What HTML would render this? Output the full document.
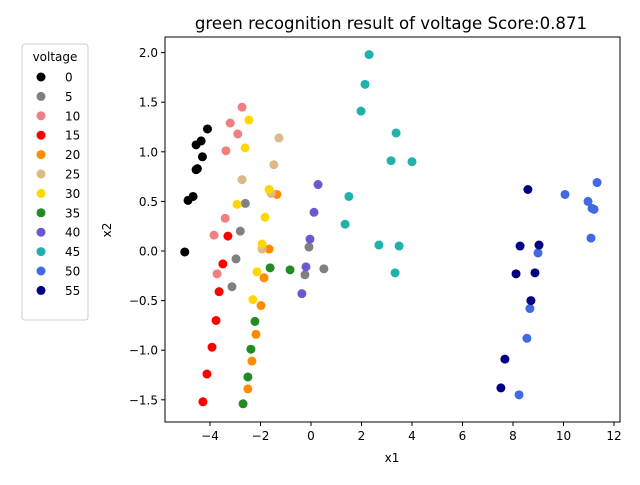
<!DOCTYPE html>
<html><head><meta charset="utf-8"><style>
body{margin:0;background:#fff;font-family:"Liberation Sans","DejaVu Sans",sans-serif;}
</style></head><body>
<svg id="chart" width="640" height="480" xmlns="http://www.w3.org/2000/svg" font-family="DejaVu Sans, Liberation Sans, sans-serif">
<rect width="640" height="480" fill="#fff"/>
<text x="391" y="29" text-anchor="middle" font-size="16.6">green recognition result of voltage Score:0.871</text>
<g id="marks"></g>
<rect x="165" y="37" width="455" height="385" fill="none" stroke="#000" stroke-width="1"/>
<g id="xticks"></g><g id="yticks"></g>
<text x="392" y="462" text-anchor="middle" font-size="12">x1</text>
<text transform="translate(111,230) rotate(-90)" text-anchor="middle" font-size="12">x2</text>
<g id="legend">
<rect x="22" y="44" width="66" height="276" rx="3" fill="#fff" stroke="#ccc"/>
<text x="55" y="61" text-anchor="middle" font-size="12">voltage</text>
</g>
</svg>
<script>
const classes=["0","5","10","15","20","25","30","35","40","45","50","55"];
const colors=["#000000","#808080","#f08080","#ff0000","#ff8c00","#deb887","#ffd700","#228b22","#6a5acd","#20b2aa","#4169e1","#000080"];
const xs=[
[-5.0,-4.87,-4.67,-4.55,-4.5,-4.55,-4.35,-4.3,-4.1],
[-2.6,-2.8,-2.97,-3.13,-0.08,-0.24,0.51],
[-2.73,-3.2,-2.9,-3.37,-3.4,-3.84,-3.72],
[-3.29,-3.49,-3.64,-3.76,-3.92,-4.12,-4.28],
[-1.35,-1.66,-1.86,-1.98,-2.18,-2.34,-2.5],
[-1.27,-1.47,-2.73,-1.58,-1.94],
[-2.46,-2.61,-1.66,-2.93,-1.82,-1.94,-2.14,-2.3],
[-1.62,-0.83,-2.22,-2.38,-2.5,-2.69],
[0.28,0.12,-0.04,-0.2,-0.36],
[2.3,2.14,1.98,3.37,3.17,4.0,1.5,1.35,2.69,3.49,3.33],
[10.06,10.97,11.21,11.13,11.33,11.09,8.99,8.67,8.55,8.24],
[8.59,8.28,9.03,8.12,8.87,8.71,7.68,7.52]];
const ys=[
[-0.01,0.51,0.55,0.82,0.83,1.07,1.11,0.95,1.23],
[0.48,0.2,-0.08,-0.36,0.04,-0.24,-0.18],
[1.45,1.29,1.18,1.01,0.33,0.16,-0.23],
[0.15,-0.13,-0.41,-0.7,-0.97,-1.24,-1.52],
[0.57,0.02,-0.27,-0.55,-0.84,-1.11,-1.39],
[1.14,0.87,0.72,0.58,0.02],
[1.32,1.04,0.62,0.47,0.34,0.07,-0.21,-0.49],
[-0.17,-0.19,-0.71,-0.99,-1.27,-1.54],
[0.67,0.39,0.12,-0.16,-0.43],
[1.98,1.68,1.41,1.19,0.91,0.9,0.55,0.27,0.06,0.05,-0.22],
[0.57,0.5,0.42,0.43,0.69,0.13,-0.02,-0.58,-0.88,-1.45],
[0.62,0.05,0.06,-0.23,-0.22,-0.5,-1.09,-1.38]];
const xTicks=[-4,-2,0,2,4,6,8,10,12];
const yTicks=[-1.5,-1.0,-0.5,0.0,0.5,1.0,1.5,2.0];
const NS="http://www.w3.org/2000/svg";
const sx=v=>311+v*25.25;
const sy=v=>251-v*99.2;
const marks=document.getElementById('marks');
classes.forEach((c,i)=>{
  xs[i].forEach((x,j)=>{
    const e=document.createElementNS(NS,'circle');
    e.setAttribute('cx',sx(x));e.setAttribute('cy',sy(ys[i][j]));e.setAttribute('r',4.5);e.setAttribute('fill',colors[i]);
    
    
    marks.appendChild(e);
  });
  const lg=document.getElementById('legend');
  const ly=77+i*19.4;
  const m=document.createElementNS(NS,'circle');
  m.setAttribute('cx',41);m.setAttribute('cy',ly);m.setAttribute('r',4.5);m.setAttribute('fill',colors[i]);
  
  
  lg.appendChild(m);
  const t=document.createElementNS(NS,'text');
  t.setAttribute('x',65);t.setAttribute('y',ly+4.5);t.setAttribute('font-size','12');t.textContent=c;
  
  
  lg.appendChild(t);
});
const xg=document.getElementById('xticks');
xTicks.forEach(v=>{
  const l=document.createElementNS(NS,'line');
  l.setAttribute('x1',sx(v));l.setAttribute('x2',sx(v));l.setAttribute('y1',422);l.setAttribute('y2',426);l.setAttribute('stroke','#000');
  
  
  xg.appendChild(l);
  const t=document.createElementNS(NS,'text');
  t.setAttribute('x',sx(v));t.setAttribute('y',440);t.setAttribute('text-anchor','middle');t.setAttribute('font-size','12');
  t.textContent=v<0?'\u2212'+(-v):String(v);
  
  
  xg.appendChild(t);
});
const yg=document.getElementById('yticks');
yTicks.forEach(v=>{
  const l=document.createElementNS(NS,'line');
  l.setAttribute('x1',161);l.setAttribute('x2',165);l.setAttribute('y1',sy(v));l.setAttribute('y2',sy(v));l.setAttribute('stroke','#000');
  
  
  yg.appendChild(l);
  const t=document.createElementNS(NS,'text');
  t.setAttribute('x',158);t.setAttribute('y',sy(v)+4.5);t.setAttribute('text-anchor','end');t.setAttribute('font-size','12');
  t.textContent=(v<0?'\u2212':'')+Math.abs(v).toFixed(1);
  
  
  yg.appendChild(t);
});
</script>
</body></html>
